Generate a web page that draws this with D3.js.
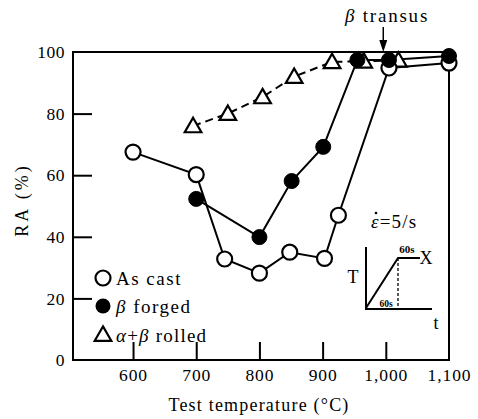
<!DOCTYPE html>
<html><head><meta charset="utf-8">
<script src="https://cdn.jsdelivr.net/npm/d3@7"></script>
<style>
html,body{margin:0;padding:0;background:#fff;}
svg, svg text{font-family:"Liberation Serif","Times New Roman","DejaVu Serif",serif;}
</style></head>
<body>
<svg id="chart" width="478" height="419"></svg>
<script>
// ---- data ----
const xTicks = [600, 700, 800, 900, 1000, 1100];
const xTickLabels = ["600", "700", "800", "900", "1,000", "1,100"];
const yTicks = [0, 20, 40, 60, 80, 100];

const castT  = [600, 700, 745, 800, 848, 903, 925, 1005, 1100];
const castRA = [67.5, 60.2, 32.8, 28.2, 35, 33, 47, 94.8, 96.4];

const forgedT  = [700, 800, 851, 901, 955, 1005, 1100];
const forgedRA = [52.3, 39.9, 58.1, 69.2, 97.4, 97.4, 98.7];

const rolledT  = [695, 750, 805, 855, 915, 965, 1020];
const rolledRA = [76, 80, 85.4, 92, 96.8, 97, 97.3];

const transusT = 996;

const SERIF = "Liberation Serif, Times New Roman, DejaVu Serif, serif";

// ---- layout ----
const svg = d3.select("#chart");
const x = d3.scaleLinear().domain([505, 1100]).range([73, 449]);
const y = d3.scaleLinear().domain([0, 100]).range([360, 52]);

const g = svg.append("g");

// frame
g.append("rect").attr("x", x(505)).attr("y", y(100))
  .attr("width", x(1100) - x(505)).attr("height", y(0) - y(100))
  .attr("fill", "none").attr("stroke", "#000").attr("stroke-width", 2);

// x ticks (inward) & labels
const xAxis = d3.axisBottom(x).tickValues(xTicks)
  .tickFormat((d, i) => xTickLabels[i]).tickSizeInner(-18).tickSizeOuter(0).tickPadding(9);
const gx = g.append("g").attr("transform", `translate(0,${y(0)})`).call(xAxis)
  .attr("font-family", SERIF);
gx.select(".domain").remove();
gx.selectAll(".tick line").attr("stroke-width", 2).filter(d => d === 1100).remove();
gx.selectAll(".tick text").attr("font-size", 17.5).attr("letter-spacing", 0.9)
  .attr("font-family", SERIF).attr("fill", "#000");

// y ticks (inward) & labels
const yAxis = d3.axisLeft(y).tickValues(yTicks).tickSizeInner(-19).tickSizeOuter(0).tickPadding(8);
const gy = g.append("g").attr("transform", `translate(${x(505)},0)`).call(yAxis)
  .attr("font-family", SERIF);
gy.select(".domain").remove();
gy.selectAll(".tick line").attr("stroke-width", 2).filter(d => d === 0 || d === 100).remove();
gy.selectAll(".tick text").attr("font-size", 17.5).attr("letter-spacing", 0.5)
  .attr("font-family", SERIF).attr("fill", "#000");

// axis titles
svg.append("text").attr("x", 259).attr("y", 411).attr("text-anchor", "middle")
  .attr("font-family", SERIF).attr("font-size", 18).attr("letter-spacing", 1.2)
  .text("Test temperature (°C)");
svg.append("text").attr("transform", "translate(28,200) rotate(-90)").attr("text-anchor", "middle")
  .attr("font-family", SERIF).attr("font-size", 18).attr("letter-spacing", 3).text("RA (%)");

// lines
const line = d3.line().x(d => x(d[0])).y(d => y(d[1]));
const zip = (a, b) => a.map((v, i) => [v, b[i]]);
const cast = zip(castT, castRA), forged = zip(forgedT, forgedRA), rolled = zip(rolledT, rolledRA);

g.append("path").datum(rolled).attr("d", line).attr("fill", "none")
  .attr("stroke", "#000").attr("stroke-width", 2).attr("stroke-dasharray", "8,5");
g.append("path").datum(cast).attr("d", line).attr("fill", "none")
  .attr("stroke", "#000").attr("stroke-width", 2);
g.append("path").datum(forged).attr("d", line).attr("fill", "none")
  .attr("stroke", "#000").attr("stroke-width", 2);

// markers
const tri = d3.symbol().type(d3.symbolTriangle).size(120);
g.selectAll(".tri").data(rolled).join("path")
  .attr("d", tri).attr("transform", d => `translate(${x(d[0])},${y(d[1])+1.5})`)
  .attr("fill", "#fff").attr("stroke", "#000").attr("stroke-width", 2.2);
g.selectAll(".oc").data(cast).join("circle")
  .attr("cx", d => x(d[0])).attr("cy", d => y(d[1])).attr("r", 7.5)
  .attr("fill", "#fff").attr("stroke", "#000").attr("stroke-width", 2.2);
g.selectAll(".fc").data(forged).join("circle")
  .attr("cx", d => x(d[0])).attr("cy", d => y(d[1])).attr("r", 7.5)
  .attr("fill", "#000").attr("stroke", "#000").attr("stroke-width", 1);

// legend
const leg = svg.append("g").attr("font-family", SERIF);
const lx = 103;
leg.append("circle").attr("cx", lx).attr("cy", 278).attr("r", 7.5)
  .attr("fill", "#fff").attr("stroke", "#000").attr("stroke-width", 2.2);
leg.append("text").attr("x", 116).attr("y", 285).attr("font-size", 19).attr("letter-spacing", 1.5).text("As cast");
leg.append("circle").attr("cx", lx).attr("cy", 306).attr("r", 7.5).attr("fill", "#000");
const t2 = leg.append("text").attr("x", 116).attr("y", 313).attr("font-size", 19).attr("letter-spacing", 1.5);
t2.append("tspan").attr("font-style", "italic").text("β");
t2.append("tspan").text(" forged");
leg.append("path").attr("d", tri).attr("transform", `translate(${lx},${336})`)
  .attr("fill", "#fff").attr("stroke", "#000").attr("stroke-width", 2.2);
const t3 = leg.append("text").attr("x", 116).attr("y", 342).attr("font-size", 19).attr("letter-spacing", 1.2);
t3.append("tspan").attr("font-style", "italic").text("α");
t3.append("tspan").text("+");
t3.append("tspan").attr("font-style", "italic").text("β");
t3.append("tspan").text(" rolled");

// beta transus annotation
const tx = x(transusT);
const bt = svg.append("text").attr("x", 387).attr("y", 22).attr("text-anchor", "middle")
  .attr("font-family", SERIF).attr("font-size", 19).attr("letter-spacing", 1.8);
bt.append("tspan").attr("font-style", "italic").text("β");
bt.append("tspan").text(" transus");
svg.append("line").attr("x1", tx).attr("x2", tx).attr("y1", 27).attr("y2", 42)
  .attr("stroke", "#000").attr("stroke-width", 1.5);
svg.append("path").attr("d", `M${tx-4},40 L${tx+4},40 L${tx},52 Z`).attr("fill", "#000");

// strain rate label
const sr = svg.append("text").attr("x", 371).attr("y", 228).attr("font-size", 19)
  .attr("letter-spacing", 1.2).attr("font-family", SERIF);
sr.append("tspan").attr("font-style", "italic").text("ε");
sr.append("tspan").text("=5/s");
svg.append("circle").attr("cx", 376).attr("cy", 213).attr("r", 1.3).attr("fill", "#000");

// inset schedule
const ins = svg.append("g").attr("stroke", "#000").attr("fill", "none");
ins.append("path").attr("d", "M366,247 L366,309 L432,309").attr("stroke-width", 2);
ins.append("path").attr("d", "M366,308 L398,258 L420,258").attr("stroke-width", 2);
ins.append("line").attr("x1", 398).attr("x2", 398).attr("y1", 258).attr("y2", 309)
  .attr("stroke-width", 1.3).attr("stroke-dasharray", "3,2");
svg.append("text").attr("x", 426).attr("y", 264).attr("text-anchor", "middle").attr("font-size", 18)
  .attr("font-family", SERIF).text("X");
svg.append("text").attr("x", 407).attr("y", 253).attr("text-anchor", "middle").attr("font-size", 11)
  .attr("font-family", "Liberation Sans, Arial, sans-serif").attr("font-weight", "bold").text("60s");
svg.append("text").attr("x", 386).attr("y", 307).attr("text-anchor", "middle").attr("font-size", 9.5)
  .attr("font-family", "Liberation Sans, Arial, sans-serif").attr("font-weight", "bold").text("60s");
svg.append("text").attr("x", 353).attr("y", 283).attr("text-anchor", "middle").attr("font-size", 18)
  .attr("font-family", SERIF).text("T");
svg.append("text").attr("x", 436).attr("y", 329).attr("text-anchor", "middle").attr("font-size", 18)
  .attr("font-family", SERIF).text("t");
</script>
</body></html>
